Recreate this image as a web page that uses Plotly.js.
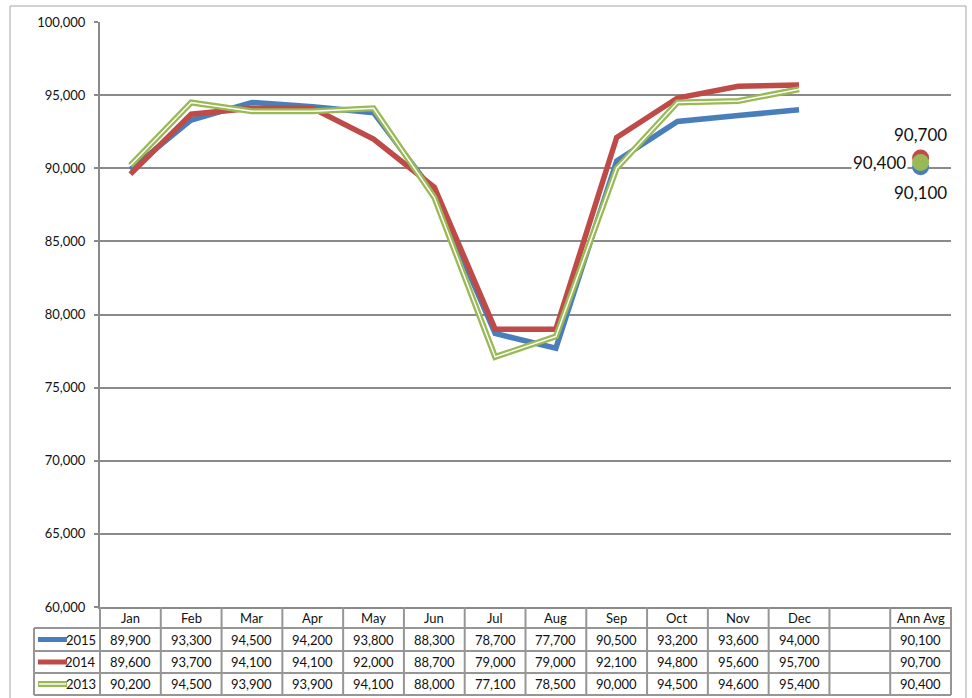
<!DOCTYPE html>
<html>
<head>
<meta charset="utf-8">
<script src="https://cdn.plot.ly/plotly-3.0.1.min.js"></script>
<style>
html,body{margin:0;padding:0;background:#fff;}
#chart{width:972px;height:698px;}
</style>
</head>
<body>
<div id="chart"></div>
<script>
// ---- data ----
const months = ['Jan','Feb','Mar','Apr','May','Jun','Jul','Aug','Sep','Oct','Nov','Dec'];
const columnLabels = months.concat(['', 'Ann Avg']);
const seriesNames = ['2015', '2014', '2013'];
const values2015 = [89900, 93300, 94500, 94200, 93800, 88300, 78700, 77700, 90500, 93200, 93600, 94000];
const values2014 = [89600, 93700, 94100, 94100, 92000, 88700, 79000, 79000, 92100, 94800, 95600, 95700];
const values2013 = [90200, 94500, 93900, 93900, 94100, 88000, 77100, 78500, 90000, 94500, 94600, 95400];
const annAvg2015 = 90100;
const annAvg2014 = 90700;
const annAvg2013 = 90400;

// ---- layout geometry ----
const W = 972, H = 698;
const M = {l: 100, r: 21, t: 22, b: 91};
const plotW = W - M.l - M.r, plotH = H - M.t - M.b;
const plotBottom = H - M.b;
const py = p => (plotBottom - p) / plotH;       // pixel y -> paper y
const px = p => (p - M.l) / plotW;              // pixel x -> paper x
const nCols = columnLabels.length;
const rowEdges = [607, 628, 651, 673, 695];
const labelColLeft = 34;

const BLUE = '#4a7ebb', RED = '#be4b48', GREEN = '#98b954';
const GRID = '#8a8a8a', TBL = '#969696';
const FONT = 'Lato, "Open Sans", sans-serif';

const monthIdx = months.map((m, i) => i);
const avgIdx = nCols - 1;
const fmt = v => v.toLocaleString('en-US');

const traces = [
  {x: monthIdx, y: values2015, mode: 'lines', line: {color: BLUE, width: 5.5}, hoverinfo: 'skip'},
  {x: monthIdx, y: values2014, mode: 'lines', line: {color: RED, width: 5.5}, hoverinfo: 'skip'},
  {x: monthIdx, y: values2013, mode: 'lines', line: {color: GREEN, width: 6}, hoverinfo: 'skip'},
  {x: monthIdx, y: values2013, mode: 'lines', line: {color: '#ffffff', width: 1.5}, hoverinfo: 'skip'},
  {x: [avgIdx], y: [annAvg2015], mode: 'markers', marker: {color: BLUE, size: 17}, hoverinfo: 'skip'},
  {x: [avgIdx], y: [annAvg2014], mode: 'markers', marker: {color: RED, size: 17}, hoverinfo: 'skip'},
  {x: [avgIdx], y: [annAvg2013], mode: 'markers', marker: {color: GREEN, size: 17}, hoverinfo: 'skip'}
];

const shapes = [];
const annotations = [];

// outer chart border
shapes.push({type: 'rect', xref: 'paper', yref: 'paper', x0: px(10), x1: px(966), y0: py(720), y1: py(6),
  line: {color: '#a6a6a6', width: 1}, fillcolor: 'rgba(0,0,0,0)', layer: 'below'});

// table: vertical column lines
for (let k = 0; k <= nCols; k++) {
  shapes.push({type: 'line', xref: 'paper', yref: 'paper', x0: k / nCols, x1: k / nCols,
    y0: py(rowEdges[0]), y1: py(rowEdges[rowEdges.length - 1]), line: {color: TBL, width: 2}});
}
// left label column line
shapes.push({type: 'line', xref: 'paper', yref: 'paper', x0: px(labelColLeft), x1: px(labelColLeft),
  y0: py(rowEdges[1]), y1: py(rowEdges[rowEdges.length - 1]), line: {color: TBL, width: 2}});
// horizontal row lines
for (let r = 1; r < rowEdges.length; r++) {
  shapes.push({type: 'line', xref: 'paper', yref: 'paper', x0: px(labelColLeft), x1: 1,
    y0: py(rowEdges[r]), y1: py(rowEdges[r]), line: {color: TBL, width: 2}});
}

const rowCenter = r => py((rowEdges[r] + rowEdges[r + 1]) / 2);
const textFont = {family: FONT, size: 13, color: '#111'};

// header row
columnLabels.forEach((lab, i) => {
  if (!lab) return;
  annotations.push({xref: 'x', yref: 'paper', x: i, y: rowCenter(0), text: lab, showarrow: false,
    font: textFont, xanchor: 'center', yanchor: 'middle'});
});

const seriesRows = [
  {name: seriesNames[0], vals: values2015, avg: annAvg2015, color: BLUE, dbl: false},
  {name: seriesNames[1], vals: values2014, avg: annAvg2014, color: RED, dbl: false},
  {name: seriesNames[2], vals: values2013, avg: annAvg2013, color: GREEN, dbl: true}
];
seriesRows.forEach((s, r) => {
  const yc = rowCenter(r + 1);
  s.vals.forEach((v, i) => {
    annotations.push({xref: 'x', yref: 'paper', x: i, y: yc, text: fmt(v), showarrow: false,
      font: textFont, xanchor: 'center', yanchor: 'middle'});
  });
  annotations.push({xref: 'x', yref: 'paper', x: avgIdx, y: yc, text: fmt(s.avg), showarrow: false,
    font: textFont, xanchor: 'center', yanchor: 'middle'});
  annotations.push({xref: 'paper', yref: 'paper', x: px(98), y: yc, text: s.name, showarrow: false,
    font: textFont, xanchor: 'right', yanchor: 'middle'});
  // legend key
  shapes.push({type: 'line', xref: 'paper', yref: 'paper', x0: px(38), x1: px(67), y0: yc, y1: yc,
    line: {color: s.color, width: s.dbl ? 6 : 5}});
  if (s.dbl) {
    shapes.push({type: 'line', xref: 'paper', yref: 'paper', x0: px(39), x1: px(66), y0: yc, y1: yc,
      line: {color: '#ffffff', width: 1.5}});
  }
});

// annual average data labels
const bigFont = {family: FONT, size: 17, color: '#111'};
annotations.push({xref: 'x', yref: 'y', x: avgIdx, y: annAvg2014, text: fmt(annAvg2014), showarrow: false,
  font: bigFont, xanchor: 'center', yanchor: 'middle', yshift: 24});
annotations.push({xref: 'x', yref: 'y', x: avgIdx, y: annAvg2015, text: fmt(annAvg2015), showarrow: false,
  font: bigFont, xanchor: 'center', yanchor: 'middle', yshift: -26});
annotations.push({xref: 'x', yref: 'y', x: avgIdx, y: annAvg2013, text: fmt(annAvg2013), showarrow: false,
  font: bigFont, xanchor: 'right', yanchor: 'middle', xshift: -13, bgcolor: '#ffffff', borderpad: 1});

const layout = {
  width: W, height: H,
  margin: M,
  paper_bgcolor: '#ffffff', plot_bgcolor: '#ffffff',
  showlegend: false,
  hovermode: false,
  xaxis: {
    range: [-0.5, nCols - 0.5], showgrid: false, zeroline: false, showticklabels: false,
    ticks: '', showline: true, linecolor: GRID, linewidth: 2, fixedrange: true
  },
  yaxis: {
    range: [60000, 100000], dtick: 5000, tick0: 60000, tickformat: ',d',
    showgrid: true, gridcolor: GRID, gridwidth: 2, zeroline: false,
    showline: true, linecolor: GRID, linewidth: 2,
    ticks: 'outside', ticklen: 4, tickcolor: GRID, tickwidth: 2,
    tickfont: {family: FONT, size: 13, color: '#111'}, ticklabelstandoff: 6, fixedrange: true
  },
  shapes: shapes,
  annotations: annotations
};

Plotly.newPlot('chart', traces, layout, {displayModeBar: false, staticPlot: true});
</script>
</body>
</html>
